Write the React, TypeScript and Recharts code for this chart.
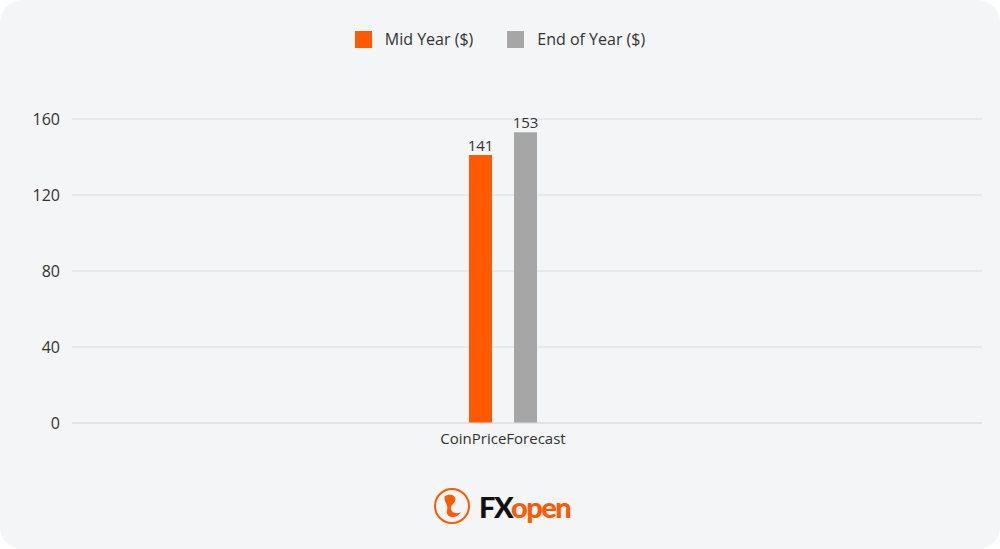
import React from 'react';
import { BarChart, Bar, XAxis, YAxis, CartesianGrid, LabelList } from 'recharts';

const categories = ['CoinPriceForecast'];
const midYear = [141];
const endOfYear = [153];
const yTicks = [0, 40, 80, 120, 160];

const seriesNames = { mid: 'Mid Year ($)', end: 'End of Year ($)' };
const ORANGE = '#ff5a00';
const GRAY = '#a6a6a6';
const FONT = '"Open Sans", "Noto Sans", sans-serif';

const data = categories.map((name, i) => ({
  name,
  mid: midYear[i],
  end: endOfYear[i],
}));

function TopLegend() {
  const items = [
    { label: seriesNames.mid, color: ORANGE },
    { label: seriesNames.end, color: GRAY },
  ];
  return (
    <div
      style={{
        position: 'absolute', top: 29, left: 0, width: 1000,
        display: 'flex', justifyContent: 'center', gap: 34,
        fontFamily: FONT, fontSize: 16, color: '#333', lineHeight: '20px',
      }}
    >
      {items.map((it) => (
        <div key={it.label} style={{ display: 'flex', alignItems: 'center' }}>
          <span style={{ width: 17, height: 17, background: it.color, display: 'inline-block', marginRight: 13 }} />
          <span>{it.label}</span>
        </div>
      ))}
    </div>
  );
}

function Logo() {
  return (
    <div style={{ position: 'absolute', left: 433, top: 486, display: 'flex', alignItems: 'center' }}>
      <svg width={38} height={40} viewBox="0 0 38 40">
        <circle cx={19} cy={20} r={17} fill="none" stroke={ORANGE} strokeWidth={2} />
        <path d="M12 10 C20 6 26 12 20 18 C14 24 22 30 28 26 C24 34 12 32 14 24 C16 18 10 16 12 10 Z" fill={ORANGE} />
      </svg>
      <span style={{ fontFamily: 'Lato, sans-serif', fontWeight: 900, fontSize: 29, letterSpacing: -1.5, marginLeft: 8, lineHeight: 1 }}>
        <span style={{ color: '#111' }}>FX</span>
        <span style={{ color: ORANGE }}>open</span>
      </span>
    </div>
  );
}

export default function App() {
  return (
    <div style={{ position: 'absolute', left: 0, top: 0, width: 1000, height: 549, background: '#fff' }}>
      <div style={{ position: 'absolute', inset: 0, background: '#f4f5f7', borderRadius: 22 }} />
      <BarChart
        width={1000}
        height={549}
        data={data}
        margin={{ top: 119, right: 18, bottom: 96, left: 0 }}
        barGap={22}
        style={{ position: 'absolute', left: 0, top: 0 }}
      >
        <CartesianGrid vertical={false} stroke="#dcdcdc" />
        <XAxis
          dataKey="name"
          height={30}
          axisLine={{ stroke: '#dcdcdc' }}
          tickLine={false}
          padding={{ left: 0, right: 48 }}
          tick={{ fill: '#333', fontSize: 15, fontFamily: FONT }}
          tickMargin={4}
        />
        <YAxis
          width={72}
          domain={[0, 160]}
          ticks={yTicks}
          axisLine={false}
          tickLine={false}
          tickMargin={6}
          tick={{ fill: '#333', fontSize: 16, fontFamily: FONT }}
        />
        <Bar dataKey="mid" name={seriesNames.mid} fill={ORANGE} barSize={23} isAnimationActive={false}>
          <LabelList dataKey="mid" position="top" offset={4} style={{ fill: '#333', fontSize: 15, fontFamily: FONT }} />
        </Bar>
        <Bar dataKey="end" name={seriesNames.end} fill={GRAY} barSize={23} isAnimationActive={false}>
          <LabelList dataKey="end" position="top" offset={4} style={{ fill: '#333', fontSize: 15, fontFamily: FONT }} />
        </Bar>
      </BarChart>
      <TopLegend />
      <Logo />
    </div>
  );
}
